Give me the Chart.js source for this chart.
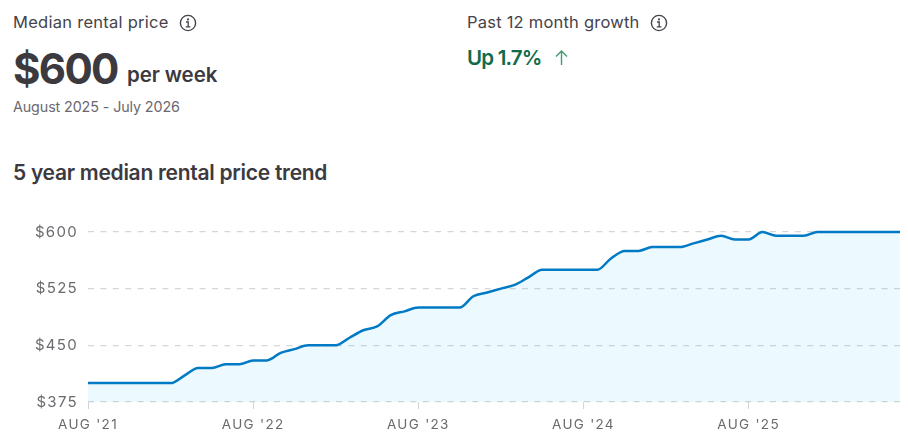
<!DOCTYPE html>
<html><head><meta charset="utf-8">
<script src="https://cdn.jsdelivr.net/npm/chart.js@4"></script>
<style>
html,body{margin:0;padding:0;background:#fff;width:908px;height:447px;overflow:hidden;font-family:Inter,sans-serif;color:#3c3a3f}
.t{position:absolute;white-space:nowrap;line-height:1}
svg{position:absolute}
#wrap{position:absolute;left:0;top:200px;width:908px;height:247px}
</style></head><body>
<div class="t" style="left:13px;top:14px;font-size:16.5px;letter-spacing:.27px;color:#46434a">Median rental price</div>
<svg style="left:179px;top:14px" width="18" height="18" viewBox="0 0 18 18"><circle cx="9" cy="9" r="7.6" fill="none" stroke="#46434a" stroke-width="1.4"/><path d="M7 8h2.2v4.6M6.8 12.8h4.6" fill="none" stroke="#46434a" stroke-width="1.3"/><circle cx="9" cy="5.4" r="1.1" fill="#46434a"/></svg>
<div class="t" style="left:13px;top:48px;font-size:42px;font-weight:700;letter-spacing:-1.7px">$600</div>
<div class="t" style="left:127px;top:65px;font-size:20.5px;font-weight:600;letter-spacing:-.1px">per week</div>
<div class="t" style="left:13px;top:100px;font-size:14.3px;letter-spacing:-.1px;color:#6b686e">August 2025 - July 2026</div>
<div class="t" style="left:13px;top:162px;font-size:21px;font-weight:600;letter-spacing:-.28px">5 year median rental price trend</div>
<div class="t" style="left:467px;top:14px;font-size:16.5px;letter-spacing:.22px;color:#46434a">Past 12 month growth</div>
<svg style="left:650px;top:14px" width="18" height="18" viewBox="0 0 18 18"><circle cx="9" cy="9" r="7.6" fill="none" stroke="#46434a" stroke-width="1.4"/><path d="M7 8h2.2v4.6M6.8 12.8h4.6" fill="none" stroke="#46434a" stroke-width="1.3"/><circle cx="9" cy="5.4" r="1.1" fill="#46434a"/></svg>
<div class="t" style="left:467px;top:48px;font-size:20.5px;font-weight:600;letter-spacing:-.8px;color:#0f6b4a">Up 1.7%</div>
<svg style="left:554px;top:49px" width="15" height="17" viewBox="0 0 15 17"><path d="M7.5 16V2M2 7.5L7.5 2L13 7.5" fill="none" stroke="#3f9a72" stroke-width="1.4"/></svg>
<div id="wrap"><canvas id="c" width="908" height="247"></canvas></div>
<script>
const yearLabels = ["AUG '21","AUG '22","AUG '23","AUG '24","AUG '25"];
const yTicks = [375,450,525,600];
const rents = [400,400,400,400,400,400,400,410,420,420,425,425,430,430,440,445,450,450,450,460,470,475,490,495,500,500,500,500,515,520,525,530,540,550,550,550,550,550,565,575,575,580,580,580,585,590,595,590,590,600,595,595,595,600,600,600,600,600,600,600];
const months = rents.map((_, i) => i % 12 === 0 ? yearLabels[i / 12] : "");
const tickIndexes = [0,12,24,36,48];

new Chart(document.getElementById('c'), {
  type: 'line',
  data: { labels: months, datasets: [{
    data: rents, borderColor: '#007ac4', borderWidth: 2.5, backgroundColor: 'rgba(0,190,255,0.075)',
    fill: 'start', pointRadius: 0, cubicInterpolationMode: 'monotone', clip: false
  }]},
  plugins: [{ id: 'spacing', beforeDraw(ch) { ch.ctx.letterSpacing = '1.3px'; } }],
  options: {
    responsive: false, animation: false,
    layout: { padding: { top: 32, right: 8, left: 0, bottom: 0 } },
    plugins: { legend: { display: false }, tooltip: { enabled: false } },
    scales: {
      x: {
        type: 'category', offset: false,
        afterFit(s) { s.height = 45; },
        afterBuildTicks(s) { s.ticks = tickIndexes.map(v => ({ value: v })); },
        grid: { display: true, drawOnChartArea: false, drawTicks: true, tickLength: 7, color: '#d4d4d4', lineWidth: 1 },
        border: { display: false },
        ticks: { autoSkip: false, maxRotation: 0, padding: 8, color: '#6b686e', font: { family: 'Inter', size: 13.5 },
          callback(v) { return months[v]; } }
      },
      y: {
        min: 375, max: 600,
        afterFit(s) { s.width = 88; },
        afterBuildTicks(s) { s.ticks = yTicks.map(v => ({ value: v })); },
        grid: { color: '#d6d6d6', lineWidth: 1.2, drawTicks: false },
        border: { display: false, dash: [6, 6.4] },
        ticks: { padding: 10, color: '#6b686e', font: { family: 'Inter', size: 15 }, callback: v => '$' + v }
      }
    }
  }
});
</script>
</body></html>
